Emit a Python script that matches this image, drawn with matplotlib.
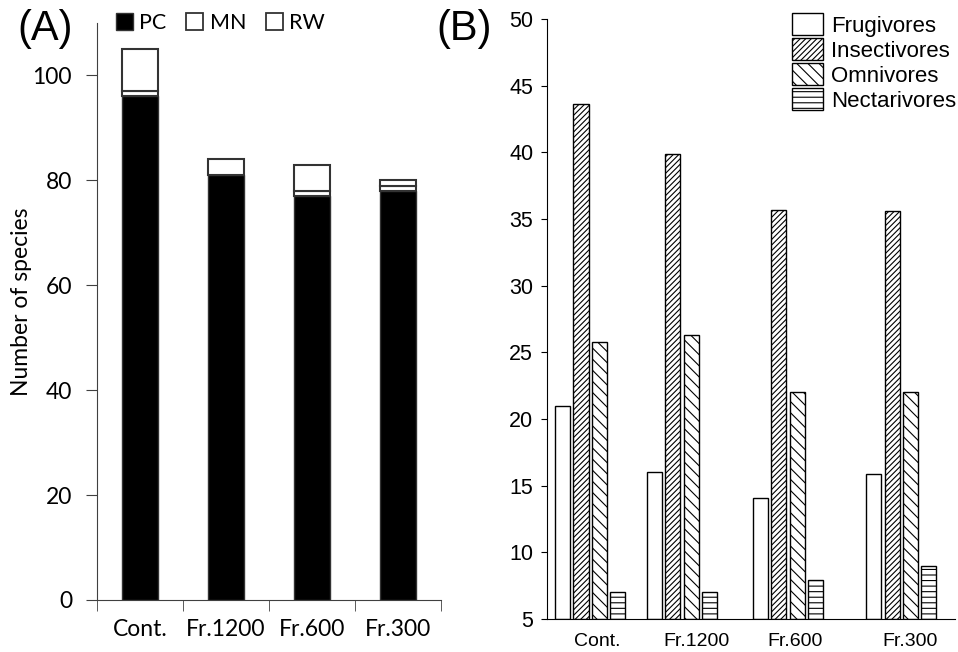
import matplotlib.pyplot as plt
import numpy as np
from matplotlib.patches import Patch

# Panel A: number of species per site, stacked
sites = ["Cont.", "Fr.1200", "Fr.600", "Fr.300"]
pc = [96, 81, 77, 78]
mn = [1, 0, 1, 1]
rw = [8, 3, 5, 1]

# Panel B: feeding guilds
guilds = ["Frugivores", "Insectivores", "Omnivores", "Nectarivores"]
frugivores = [21.0, 16.0, 14.05, 15.9]
insectivores = [43.6, 39.9, 35.7, 35.6]
omnivores = [25.8, 26.3, 22.0, 22.0]
nectarivores = [7.0, 7.0, 7.9, 9.0]

fig = plt.figure(figsize=(9.58, 6.52), dpi=100)

# ---------- panel A ----------
fa = "Lato"
axA = fig.add_axes([0.1013, 0.0798, 0.359, 0.885])
x = np.arange(len(sites))
w = 0.41
pc_a = np.array(pc)
mn_a = np.array(mn)
rw_a = np.array(rw)
axA.bar(x, pc_a, w, color="black", edgecolor="#333333", linewidth=1)
axA.bar(x, mn_a, w, bottom=pc_a, color="white", edgecolor="#333333", linewidth=1.5)
axA.bar(x, rw_a, w, bottom=pc_a + mn_a, color="white", edgecolor="#333333", linewidth=1.5)
axA.set_xlim(-0.5, 3.5)
axA.set_ylim(0, 110)
axA.set_yticks(range(0, 101, 20))
axA.set_xticks(x)
axA.set_xticklabels(sites, fontfamily=fa, fontsize=16.5)
axA.set_xticks(np.arange(-0.5, 4, 1), minor=True)
axA.tick_params(axis="x", which="major", length=0, pad=14)
axA.tick_params(axis="x", which="minor", length=8, color="#404040")
axA.tick_params(axis="y", length=8, color="#404040", labelsize=16.5, pad=10)
for lab in axA.get_yticklabels():
    lab.set_fontfamily(fa)
for s in ["top", "right"]:
    axA.spines[s].set_visible(False)
for s in ["left", "bottom"]:
    axA.spines[s].set_color("#404040")
axA.set_ylabel("Number of species", fontfamily=fa, fontsize=16.5)
axA.yaxis.set_label_coords(-0.19, 0.516)
handles_a = [Patch(facecolor="black", edgecolor="#333333"),
             Patch(facecolor="white", edgecolor="#333333", linewidth=1.3),
             Patch(facecolor="white", edgecolor="#333333", linewidth=1.3)]
fig.legend(handles_a, ["PC", "MN", "RW"], loc="center", bbox_to_anchor=(0.23, 0.965),
           ncol=3, frameon=False, handlelength=0.8, handleheight=0.8,
           handletextpad=0.3, columnspacing=0.9, prop={"family": fa, "size": 15.5})
fig.text(0.018, 0.955, "(A)", fontsize=30, fontfamily="Liberation Sans", va="center")

# ---------- panel B ----------
fb = "Liberation Sans"
axB = fig.add_axes([0.571, 0.0506, 0.426, 0.920])
group_pos = np.array([0.0, 0.887, 1.909, 3.0])
label_pos = group_pos + np.array([0.07, 0.14, 0.07, 0.09])
bw = 0.145
step = 0.175
series = [frugivores, insectivores, omnivores, nectarivores]
hatches = [None, "//////", "\\\\\\", "---"]
plt.rcParams["hatch.linewidth"] = 0.8
for i, (vals, h) in enumerate(zip(series, hatches)):
    xs = group_pos + (i - 1.5) * step
    heights = np.array(vals) - 5
    axB.bar(xs, heights, bw, bottom=5, color="white", edgecolor="black",
            linewidth=1.0, hatch=h)
axB.set_xlim(-0.415, 3.52)
axB.set_ylim(5, 50)
axB.set_yticks(range(5, 51, 5))
axB.set_xticks(label_pos)
axB.set_xticklabels(sites, fontfamily=fb, fontsize=14)
axB.tick_params(axis="x", length=0, pad=10)
axB.tick_params(axis="y", length=4, labelsize=15.5, pad=6)
for lab in axB.get_yticklabels():
    lab.set_fontfamily(fb)
for s in ["top", "right"]:
    axB.spines[s].set_visible(False)
handles_b = [Patch(facecolor="white", edgecolor="black", hatch=h) for h in hatches]
fig.legend(handles_b, guilds, loc="upper right", bbox_to_anchor=(1.019, 1.01),
           frameon=False, handlelength=1.4, handleheight=1.1, handletextpad=0.35,
           labelspacing=0.08, prop={"family": fb, "size": 16})
fig.text(0.456, 0.955, "(B)", fontsize=30, fontfamily="Liberation Sans", va="center")

fig.savefig("out.png", dpi=100)
